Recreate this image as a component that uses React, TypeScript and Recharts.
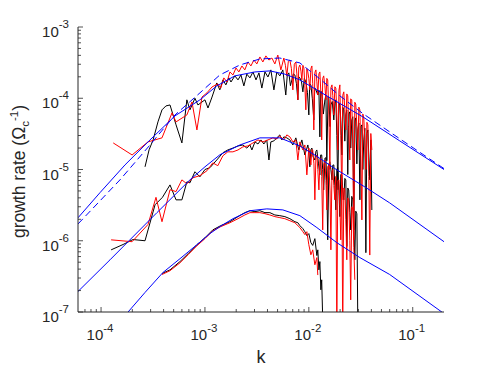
import React from 'react';
import { LineChart, Line, XAxis, YAxis } from 'recharts';

type Pt = [number, number];

// k, growth rate pairs
const blackTop: Pt[] = [
  [2.65e-4, 1.09e-5], [2.9e-4, 1.89e-5], [3.17e-4, 2.6e-5], [3.53e-4, 4.66e-5], [3.86e-4, 6.87e-5],
  [4.21e-4, 7.8e-5], [4.61e-4, 8.05e-5], [5.27e-4, 4.24e-5], [6.0e-4, 2.36e-5], [6.7e-4, 9.5e-5],
  [7.17e-4, 6.87e-5], [8.01e-4, 1.0e-4], [8.56e-4, 8.05e-5], [1.0e-3, 9.5e-5], [1.07e-3, 7.3e-5],
  [1.17e-3, 1.04e-4], [1.3e-3, 1.64e-4], [1.39e-3, 1.31e-4], [1.49e-3, 1.81e-4], [1.59e-3, 1.54e-4],
  [1.7e-3, 1.93e-4], [1.78e-3, 1.69e-4], [1.94e-3, 2.06e-4], [2.08e-3, 1.81e-4], [2.22e-3, 2.12e-4],
  [2.37e-3, 1.49e-4], [2.53e-3, 2.18e-4], [2.71e-3, 1.93e-4], [2.9e-3, 2.34e-4], [3.1e-3, 1.81e-4],
  [3.31e-3, 2.27e-4], [3.53e-3, 1.39e-4], [3.78e-3, 2.34e-4], [4.04e-3, 1.99e-4], [4.31e-3, 2.5e-4],
  [4.61e-3, 1.31e-4], [4.92e-3, 2.34e-4], [5.26e-3, 2.06e-4], [5.62e-3, 2.5e-4], [6.0e-3, 1.11e-4],
  [6.2e-3, 2.1e-4], [6.42e-3, 2.27e-4], [6.65e-3, 1.5e-4], [6.87e-3, 1.81e-4], [7.1e-3, 2.2e-4],
  [7.34e-3, 2.12e-4], [7.6e-3, 1.6e-4], [7.84e-3, 9.5e-5], [8.0e-3, 2.0e-4], [8.2e-3, 1.93e-4],
  [8.5e-3, 1.7e-4], [8.76e-3, 1.23e-4], [9.05e-3, 1.9e-4], [9.36e-3, 1.69e-4], [9.7e-3, 1.2e-4],
  [1.0e-2, 5.83e-5], [1.02e-2, 1.6e-4], [1.046e-2, 1.54e-4], [1.08e-2, 1.0e-4], [1.117e-2, 4.96e-5],
  [1.14e-2, 1.4e-4], [1.17e-2, 1.31e-4], [1.22e-2, 1.11e-4], [1.25e-2, 1.3e-4], [1.277e-2, 2.87e-5],
  [1.3e-2, 1.25e-4], [1.33e-2, 1.23e-4], [1.38e-2, 6.0e-5], [1.427e-2, 9.5e-5], [1.46e-2, 1.1e-4],
  [1.49e-2, 1.33e-5], [1.53e-2, 1.05e-4], [1.56e-2, 1.0e-4], [1.6e-2, 4.0e-5], [1.63e-2, 8.05e-5],
  [1.68e-2, 9.0e-5], [1.74e-2, 4.96e-5], [1.78e-2, 8.5e-5], [1.82e-2, 9.5e-5], [1.86e-2, 3.0e-5],
  [1.9e-2, 5.2e-6], [1.95e-2, 8.5e-5], [1.99e-2, 8.05e-5], [2.03e-2, 5.0e-5], [2.08e-2, 1.6e-5],
  [2.12e-2, 7.5e-5], [2.17e-2, 6.87e-5], [2.22e-2, 2.5e-5], [2.27e-2, 5.83e-5], [2.32e-2, 6.8e-5],
  [2.37e-2, 8.5e-6], [2.42e-2, 6.0e-5], [2.48e-2, 6.44e-5], [2.53e-2, 2.0e-5], [2.59e-2, 4.96e-5],
  [2.65e-2, 5.5e-5], [2.71e-2, 1.42e-6], [2.77e-2, 4.8e-5], [2.83e-2, 5.3e-5], [2.9e-2, 1.2e-5],
  [2.96e-2, 3.59e-5], [3.03e-2, 4.5e-5], [3.1e-2, 3.75e-6], [3.17e-2, 4.0e-5], [3.24e-2, 4.23e-5],
  [3.31e-2, 1.0e-5], [3.38e-2, 2.6e-5], [3.46e-2, 3.8e-5], [3.54e-2, 6.8e-7], [3.62e-2, 3.2e-5],
  [3.7e-2, 3.59e-5], [3.78e-2, 1.5e-5], [3.86e-2, 7.15e-6], [3.95e-2, 2.6e-5], [4.04e-2, 2.7e-6],
];

const redTop: Pt[] = [
  [1.31e-4, 2.36e-5], [1.99e-4, 1.6e-5], [2.83e-4, 2.44e-5], [3.86e-4, 2.78e-5], [4.82e-4, 6.23e-5],
  [5.27e-4, 4.66e-5], [6.7e-4, 5.83e-5], [7.5e-4, 8.89e-5], [8.37e-4, 3.59e-5], [9.36e-4, 1.04e-4],
  [1.045e-3, 1.19e-4], [1.17e-3, 1.44e-4], [1.33e-3, 1.59e-4], [1.42e-3, 1.39e-4], [1.52e-3, 1.93e-4],
  [1.63e-3, 1.69e-4], [1.74e-3, 2.34e-4], [1.86e-3, 2.12e-4], [1.99e-3, 2.66e-4], [2.12e-3, 2.34e-4],
  [2.27e-3, 2.84e-4], [2.42e-3, 2.5e-4], [2.59e-3, 3.23e-4], [2.77e-3, 2.84e-4], [2.96e-3, 3.44e-4],
  [3.16e-3, 3.03e-4], [3.38e-3, 3.8e-4], [3.61e-3, 3.23e-4], [3.86e-3, 3.93e-4], [4.13e-3, 3.44e-4],
  [4.41e-3, 3.67e-4], [4.71e-3, 3.03e-4], [5.03e-3, 4.04e-4], [5.38e-3, 2.5e-4], [5.75e-3, 3.67e-4],
  [5.95e-3, 2.9e-4], [6.14e-3, 2.06e-4], [6.35e-3, 3.3e-4], [6.57e-3, 3.44e-4], [6.8e-3, 2.6e-4],
  [7.02e-3, 1.31e-4], [7.25e-3, 3.0e-4], [7.5e-3, 3.23e-4], [7.67e-3, 2.2e-4], [7.84e-3, 9.5e-5],
  [8.0e-3, 2.7e-4], [8.2e-3, 2.93e-4], [8.4e-3, 2.4e-4], [8.57e-3, 1.81e-4], [8.76e-3, 2.9e-4],
  [8.96e-3, 2.66e-4], [9.16e-3, 1.5e-4], [9.36e-3, 6.87e-5], [9.57e-3, 2.6e-4], [9.78e-3, 2.34e-4],
  [1.0e-2, 1.9e-4], [1.023e-2, 1.31e-4], [1.046e-2, 2.6e-4], [1.07e-2, 2.84e-4], [1.09e-2, 1.6e-4],
  [1.117e-2, 3.59e-5], [1.143e-2, 2.3e-4], [1.17e-2, 2.5e-4], [1.195e-2, 1.7e-4], [1.22e-2, 1.11e-4],
  [1.25e-2, 2.2e-4], [1.277e-2, 2.34e-4], [1.305e-2, 1.2e-4], [1.33e-2, 2.6e-5], [1.36e-2, 1.9e-4],
  [1.39e-2, 2.06e-4], [1.427e-2, 1.5e-4], [1.46e-2, 9.5e-5], [1.49e-2, 1.9e-4], [1.52e-2, 1.81e-4],
  [1.56e-2, 6.0e-5], [1.594e-2, 1.0e-5], [1.63e-2, 1.4e-4], [1.67e-2, 1.54e-4], [1.7e-2, 1.1e-4],
  [1.74e-2, 5.83e-5], [1.78e-2, 1.45e-4], [1.82e-2, 1.39e-4], [1.86e-2, 6.0e-5], [1.9e-2, 1.88e-5],
  [1.95e-2, 1.3e-4], [1.99e-2, 1.54e-4], [2.03e-2, 3.0e-5], [2.08e-2, 3.75e-6], [2.12e-2, 1.1e-4],
  [2.17e-2, 1.23e-4], [2.22e-2, 7.0e-5], [2.27e-2, 3.59e-5], [2.32e-2, 1.15e-4], [2.37e-2, 1.08e-4],
  [2.42e-2, 4.0e-5], [2.48e-2, 1.36e-5], [2.53e-2, 9.8e-5], [2.59e-2, 9.5e-5], [2.65e-2, 2.0e-5],
  [2.71e-2, 1.03e-6], [2.77e-2, 8.8e-5], [2.83e-2, 8.3e-5], [2.9e-2, 4.0e-5], [2.96e-2, 1.88e-5],
  [3.03e-2, 7.5e-5], [3.1e-2, 6.87e-5], [3.17e-2, 1.5e-5], [3.24e-2, 1.96e-6], [3.31e-2, 6.0e-5],
  [3.38e-2, 5.3e-5], [3.46e-2, 2.5e-5], [3.54e-2, 1.0e-5], [3.62e-2, 4.6e-5], [3.7e-2, 4.23e-5],
  [3.78e-2, 8.0e-6], [3.86e-2, 6.3e-7], [3.95e-2, 3.2e-5], [4.04e-2, 1.88e-5],
];

const blackMid: Pt[] = [
  [1.25e-4, 7.45e-7], [1.63e-4, 8.86e-7], [2.03e-4, 1.04e-6], [2.65e-4, 1.0e-6], [3.31e-4, 3.2e-6],
  [3.9e-4, 4.07e-6], [4.61e-4, 6.08e-6], [5.27e-4, 3.75e-6], [6.0e-4, 3.75e-6], [6.7e-4, 6.7e-6],
  [7.17e-4, 6.5e-6], [8.01e-4, 9.3e-6], [8.95e-4, 7.9e-6], [1.0e-3, 1.0e-5], [1.117e-3, 1.06e-5],
  [1.3e-3, 1.36e-5], [1.49e-3, 1.72e-5], [1.66e-3, 1.88e-5], [1.86e-3, 2.0e-5], [2.08e-3, 2.14e-5],
  [2.32e-3, 2.21e-5], [2.53e-3, 2.0e-5], [2.71e-3, 2.21e-5], [2.83e-3, 1.88e-5], [3.03e-3, 2.44e-5],
  [3.24e-3, 2.28e-5], [3.46e-3, 2.6e-5], [3.69e-3, 2.28e-5], [3.94e-3, 2.6e-5], [4.13e-3, 1.36e-5],
  [4.31e-3, 2.44e-5], [4.61e-3, 2.52e-5], [4.92e-3, 2.78e-5], [5.26e-3, 3.06e-5], [5.5e-3, 2.6e-5],
  [5.75e-3, 2.87e-5], [6.14e-3, 2.78e-5], [6.57e-3, 2.6e-5], [7.02e-3, 2.21e-5], [7.5e-3, 2.78e-5],
  [8.01e-3, 1.88e-5], [8.57e-3, 2.6e-5], [9.16e-3, 1.6e-5], [9.78e-3, 2.21e-5], [1.0e-2, 1.8e-5],
  [1.023e-2, 1.09e-5], [1.046e-2, 1.9e-5], [1.07e-2, 2.0e-5], [1.1e-2, 1.5e-5], [1.143e-2, 1.36e-5],
  [1.17e-2, 1.8e-5], [1.195e-2, 1.88e-5], [1.24e-2, 1.2e-5], [1.277e-2, 8.4e-6], [1.3e-2, 1.6e-5],
  [1.33e-2, 1.6e-5], [1.36e-2, 1.0e-5], [1.39e-2, 5.17e-6], [1.43e-2, 1.45e-5], [1.46e-2, 1.46e-5],
  [1.49e-2, 6.0e-6], [1.52e-2, 1.03e-6], [1.56e-2, 1.2e-5], [1.594e-2, 1.28e-5], [1.63e-2, 1.0e-5],
  [1.67e-2, 7.15e-6], [1.7e-2, 1.15e-5], [1.74e-2, 1.16e-5], [1.78e-2, 6.0e-6], [1.82e-2, 2.71e-6],
  [1.86e-2, 1.0e-5], [1.9e-2, 1.06e-5], [1.95e-2, 5.0e-6], [1.99e-2, 2.18e-6], [2.03e-2, 8.5e-6],
  [2.08e-2, 8.4e-6], [2.12e-2, 5.0e-6], [2.17e-2, 3.75e-6], [2.22e-2, 7.5e-6], [2.27e-2, 7.15e-6],
  [2.32e-2, 8.3e-7], [2.37e-2, 5.5e-6], [2.42e-2, 5.17e-6], [2.48e-2, 2.5e-6], [2.53e-2, 1.42e-6],
  [2.59e-2, 4.2e-6], [2.65e-2, 3.75e-6], [2.71e-2, 1.5e-6], [2.77e-2, 5.4e-7], [2.83e-2, 2.6e-6],
  [2.9e-2, 2.39e-6], [2.96e-2, 7.0e-8],
];

const redMid: Pt[] = [
  [1.25e-4, 1.03e-6], [1.99e-4, 9.7e-7], [2.83e-4, 1.69e-6], [3.38e-4, 4.07e-6], [3.86e-4, 1.85e-6],
  [4.61e-4, 5.2e-6], [5.27e-4, 4.9e-6], [6.0e-4, 7.15e-6], [6.7e-4, 6.3e-6], [7.66e-4, 7.65e-6],
  [8.95e-4, 8.2e-6], [1.045e-3, 9.6e-6], [1.19e-3, 1.24e-5], [1.33e-3, 1.13e-5], [1.49e-3, 1.56e-5],
  [1.66e-3, 1.77e-5], [1.86e-3, 1.77e-5], [2.08e-3, 1.88e-5], [2.32e-3, 2.08e-5], [2.59e-3, 2.14e-5],
  [2.9e-3, 2.36e-5], [3.24e-3, 2.6e-5], [3.61e-3, 2.44e-5], [4.04e-3, 2.6e-5], [4.51e-3, 2.78e-5],
  [4.92e-3, 2.69e-5], [5.26e-3, 2.96e-5], [5.75e-3, 2.6e-5], [6.14e-3, 3.06e-5], [6.57e-3, 2.87e-5],
  [7.02e-3, 2.44e-5], [7.5e-3, 2.6e-5], [7.84e-3, 1.36e-5], [8.2e-3, 2.44e-5], [8.76e-3, 1.88e-5],
  [9.16e-3, 2.21e-5], [9.57e-3, 8.4e-6], [1.0e-2, 2.0e-5], [1.02e-2, 1.7e-5], [1.046e-2, 1.16e-5],
  [1.07e-2, 1.9e-5], [1.09e-2, 1.88e-5], [1.12e-2, 1.2e-5], [1.143e-2, 3.75e-6], [1.17e-2, 1.5e-5],
  [1.195e-2, 1.6e-5], [1.22e-2, 1.0e-5], [1.25e-2, 5.17e-6], [1.28e-2, 1.4e-5], [1.305e-2, 1.46e-5],
  [1.33e-2, 8.0e-6], [1.36e-2, 1.42e-6], [1.39e-2, 1.2e-5], [1.427e-2, 1.36e-5], [1.46e-2, 7.0e-6],
  [1.49e-2, 2.71e-6], [1.52e-2, 1.1e-5], [1.56e-2, 1.16e-5], [1.6e-2, 5.0e-6], [1.63e-2, 7.45e-7],
  [1.67e-2, 9.5e-6], [1.7e-2, 1.0e-5], [1.74e-2, 6.0e-6], [1.78e-2, 3.75e-6], [1.82e-2, 8.0e-6],
  [1.86e-2, 5.0e-8], [1.9e-2, 7.0e-6], [1.95e-2, 7.15e-6], [1.99e-2, 3.0e-6], [2.03e-2, 1.03e-6],
  [2.08e-2, 6.0e-6], [2.12e-2, 5.0e-8], [2.17e-2, 5.5e-6], [2.22e-2, 5.17e-6], [2.27e-2, 2.0e-6],
  [2.32e-2, 5.4e-7], [2.37e-2, 4.0e-6], [2.42e-2, 3.75e-6], [2.48e-2, 1.0e-6], [2.53e-2, 1.48e-7],
  [2.59e-2, 3.0e-6], [2.65e-2, 2.71e-6], [2.71e-2, 8.0e-7], [2.77e-2, 2.83e-7],
];

const blackBot: Pt[] = [
  [3.86e-4, 3.47e-7], [4.61e-4, 3.9e-7], [5.75e-4, 5.1e-7], [6.87e-4, 6.55e-7], [8.37e-4, 8.8e-7],
  [1.0e-3, 1.1e-6], [1.19e-3, 1.42e-6], [1.42e-3, 1.63e-6], [1.74e-3, 1.85e-6], [2.08e-3, 2.18e-6],
  [2.42e-3, 2.48e-6], [2.71e-3, 2.64e-6], [3.03e-3, 2.56e-6], [3.38e-3, 2.64e-6], [3.78e-3, 2.48e-6],
  [4.22e-3, 2.48e-6], [4.71e-3, 2.3e-6], [5.26e-3, 2.25e-6], [5.88e-3, 2.18e-6], [6.57e-3, 2.04e-6],
  [7.34e-3, 1.85e-6], [7.84e-3, 1.79e-6], [8.2e-3, 1.63e-6], [8.76e-3, 1.48e-6], [9.16e-3, 1.34e-6],
  [9.57e-3, 1.18e-6], [1.0e-2, 1.26e-6], [1.046e-2, 9.4e-7], [1.09e-2, 8.6e-7], [1.143e-2, 1.07e-6],
  [1.195e-2, 6.2e-7], [1.22e-2, 7.45e-7], [1.25e-2, 3.9e-7], [1.277e-2, 5.1e-7], [1.305e-2, 2.05e-7],
  [1.33e-2, 2.83e-7], [1.36e-2, 8.0e-8],
];

const redBot: Pt[] = [
  [3.86e-4, 3.36e-7], [4.61e-4, 3.8e-7], [5.75e-4, 4.9e-7], [6.87e-4, 6.35e-7], [8.37e-4, 8.5e-7],
  [1.0e-3, 1.07e-6], [1.19e-3, 1.38e-6], [1.42e-3, 1.58e-6], [1.74e-3, 1.79e-6], [2.08e-3, 2.04e-6],
  [2.42e-3, 2.3e-6], [2.71e-3, 2.48e-6], [3.03e-3, 2.48e-6], [3.38e-3, 2.48e-6], [3.78e-3, 2.4e-6],
  [4.22e-3, 2.3e-6], [4.71e-3, 2.18e-6], [5.26e-3, 2.11e-6], [5.88e-3, 2.04e-6], [6.57e-3, 1.91e-6],
  [7.34e-3, 1.79e-6], [8.2e-3, 1.53e-6], [8.76e-3, 1.34e-6], [9.16e-3, 1.22e-6], [9.57e-3, 1.34e-6],
  [1.0e-2, 8.8e-7], [1.046e-2, 6.35e-7], [1.09e-2, 7.45e-7], [1.143e-2, 4.6e-7], [1.195e-2, 5.8e-7],
  [1.22e-2, 3.3e-7],
];

// theory curves
const fitTop: Pt[] = [
  [6.0e-5, 2.1e-6], [9.78e-5, 4.74e-6], [1.7e-4, 1.16e-5], [2.96e-4, 2.6e-5], [5.15e-4, 5.66e-5],
  [8.95e-4, 9.5e-5], [1.3e-3, 1.49e-4], [1.94e-3, 2.06e-4], [3.03e-3, 2.34e-4], [4.22e-3, 2.42e-4],
  [5.88e-3, 2.18e-4], [8.2e-3, 1.81e-4], [1.49e-2, 1.08e-4], [3.31e-2, 5.48e-5], [7.5e-2, 2.52e-5],
  [0.2, 1.0e-5],
];

const fitTopDashed: Pt[] = [
  [6.0e-5, 1.72e-6], [1.52e-4, 7.15e-6], [2.96e-4, 2.21e-5], [5.15e-4, 5.83e-5], [8.95e-4, 1.19e-4],
  [1.39e-3, 2.12e-4], [2.17e-3, 2.93e-4], [3.38e-3, 3.56e-4], [5.26e-3, 3.67e-4], [8.2e-3, 3.13e-4],
  [1.277e-2, 1.87e-4], [1.99e-2, 1.08e-4], [3.31e-2, 6.1e-5], [7.5e-2, 2.7e-5], [0.2, 1.03e-5],
];

const fitMid: Pt[] = [
  [6.0e-5, 1.94e-7], [1.22e-4, 5.4e-7], [3.45e-4, 2.48e-6], [7.17e-4, 7.15e-6], [1.0e-3, 1.09e-5],
  [1.394e-3, 1.61e-5], [2.17e-3, 2.21e-5], [3.38e-3, 2.78e-5], [5.26e-3, 2.78e-5], [8.2e-3, 2.14e-5],
  [1.17e-2, 1.56e-5], [1.78e-2, 1.03e-5], [3.46e-2, 5.7e-6], [6.0e-2, 3.4e-6], [0.2, 9.7e-7],
];

const fitBot: Pt[] = [
  [1.82e-4, 1.0e-7], [2.65e-4, 1.88e-7], [3.94e-4, 3.58e-7], [5.75e-4, 5.6e-7], [8.37e-4, 8.8e-7],
  [1.117e-3, 1.26e-6], [1.394e-3, 1.58e-6], [1.86e-3, 2.04e-6], [2.71e-3, 2.64e-6], [3.94e-3, 2.8e-6],
  [5.62e-3, 2.71e-6], [8.2e-3, 2.25e-6], [1.195e-2, 1.53e-6], [1.86e-2, 9.4e-7], [3.1e-2, 5.8e-7],
  [6.0e-2, 3.36e-7], [0.2, 9.5e-8],
];

const xTicks = [
  7e-5, 8e-5, 9e-5, 1e-4, 2e-4, 3e-4, 4e-4, 5e-4, 6e-4, 7e-4, 8e-4, 9e-4,
  1e-3, 2e-3, 3e-3, 4e-3, 5e-3, 6e-3, 7e-3, 8e-3, 9e-3,
  1e-2, 2e-2, 3e-2, 4e-2, 5e-2, 6e-2, 7e-2, 8e-2, 9e-2, 1e-1,
];
const xMajor = [1e-4, 1e-3, 1e-2, 1e-1];
const xExp = ['-4', '-3', '-2', '-1'];

const yTicks = [
  1e-7, 2e-7, 3e-7, 4e-7, 5e-7, 6e-7, 7e-7, 8e-7, 9e-7,
  1e-6, 2e-6, 3e-6, 4e-6, 5e-6, 6e-6, 7e-6, 8e-6, 9e-6,
  1e-5, 2e-5, 3e-5, 4e-5, 5e-5, 6e-5, 7e-5, 8e-5, 9e-5,
  1e-4, 2e-4, 3e-4, 4e-4, 5e-4, 6e-4, 7e-4, 8e-4, 9e-4, 1e-3,
];
const yMajor = [1e-7, 1e-6, 1e-5, 1e-4, 1e-3];
const yExp = ['-7', '-6', '-5', '-4', '-3'];

const X_DOMAIN: [number, number] = [6e-5, 0.2];
const Y_DOMAIN: [number, number] = [1e-7, 1e-3];

const FONT = '"Liberation Sans", Arial, Helvetica, sans-serif';
const INK = '#262626';
const W = 491;
const H = 368;
const MARGIN = { top: 27, right: 47, bottom: 0, left: 0 };
const Y_AXIS_W = 78;
const X_AXIS_H = 56;
const PLOT_W = W - MARGIN.right - Y_AXIS_W;
const PLOT_H = H - MARGIN.top - X_AXIS_H;

const series = [
  { name: 'blackTop', data: blackTop, color: '#000000' },
  { name: 'blackMid', data: blackMid, color: '#000000' },
  { name: 'blackBot', data: blackBot, color: '#000000' },
  { name: 'redTop', data: redTop, color: '#ff0000' },
  { name: 'redMid', data: redMid, color: '#ff0000' },
  { name: 'redBot', data: redBot, color: '#ff0000' },
  { name: 'fitTop', data: fitTop, color: '#0000ff' },
  { name: 'fitTopDashed', data: fitTopDashed, color: '#0000ff', dash: '7 4' },
  { name: 'fitMid', data: fitMid, color: '#0000ff' },
  { name: 'fitBot', data: fitBot, color: '#0000ff' },
];

const toRows = (pts: Pt[]) => pts.map(([k, g]) => ({ k, g }));

const BottomTick = (props: any) => {
  const { x, y, payload } = props;
  const i = xMajor.indexOf(payload.value);
  const major = i >= 0;
  return (
    <g>
      <line x1={x} y1={y} x2={x} y2={y - (major ? 5 : 3)} stroke={INK} strokeWidth={0.8} />
      {major && (
        <text x={x - 1} y={y + 28} textAnchor="middle" fill={INK} fontFamily={FONT}>
          <tspan fontSize={15}>10</tspan>
          <tspan fontSize={11.5} dy={-8}>{xExp[i]}</tspan>
        </text>
      )}
    </g>
  );
};

const TopTick = (props: any) => {
  const { x, y, payload } = props;
  const major = xMajor.includes(payload.value);
  return <line x1={x} y1={y} x2={x} y2={y + (major ? 5 : 3)} stroke={INK} strokeWidth={0.8} />;
};

const LeftTick = (props: any) => {
  const { x, y, payload } = props;
  const i = yMajor.indexOf(payload.value);
  const major = i >= 0;
  return (
    <g>
      <line x1={x} y1={y} x2={x + (major ? 5 : 3)} y2={y} stroke={INK} strokeWidth={0.8} />
      {major && (
        <text x={x - 9} y={y + 10} textAnchor="end" fill={INK} fontFamily={FONT}>
          <tspan fontSize={15}>10</tspan>
          <tspan fontSize={11.5} dy={-9}>{yExp[i]}</tspan>
        </text>
      )}
    </g>
  );
};

const RightTick = (props: any) => {
  const { x, y, payload } = props;
  const major = yMajor.includes(payload.value);
  return <line x1={x} y1={y} x2={x - (major ? 5 : 3)} y2={y} stroke={INK} strokeWidth={0.8} />;
};

const xTitle = () => (
  <text x={Y_AXIS_W + PLOT_W / 2} y={H - 5} textAnchor="middle" fontSize={18} fill={INK} fontFamily={FONT}>
    k
  </text>
);

const yTitle = () => {
  const cx = 25;
  const cy = MARGIN.top + PLOT_H / 2 + 2;
  return (
    <text
      x={cx}
      y={cy}
      transform={`rotate(-90, ${cx}, ${cy})`}
      textAnchor="middle"
      fontSize={17.5}
      fill={INK}
      fontFamily={FONT}
    >
      <tspan>growth rate (Ω</tspan>
      <tspan fontSize={11.5} dy={4}>c</tspan>
      <tspan fontSize={11.5} dy={-11}>-1</tspan>
      <tspan dy={7}>)</tspan>
    </text>
  );
};

export default function App() {
  return (
    <div style={{ position: 'absolute', left: 0, top: 0, background: '#fff' }}>
      <LineChart width={W} height={H} margin={MARGIN}>
        <XAxis
          dataKey="k"
          type="number"
          scale="log"
          domain={X_DOMAIN}
          allowDataOverflow
          ticks={xTicks}
          interval={0}
          height={X_AXIS_H}
          tickSize={0}
          tickMargin={0}
          tickLine={false}
          axisLine={{ stroke: INK }}
          tick={BottomTick}
          label={{ content: xTitle }}
        />
        <XAxis
          xAxisId="top"
          orientation="top"
          dataKey="k"
          type="number"
          scale="log"
          domain={X_DOMAIN}
          allowDataOverflow
          ticks={xTicks}
          interval={0}
          height={0}
          tickSize={0}
          tickMargin={0}
          tickLine={false}
          axisLine={{ stroke: INK }}
          tick={TopTick}
        />
        <YAxis
          type="number"
          scale="log"
          domain={Y_DOMAIN}
          allowDataOverflow
          ticks={yTicks}
          interval={0}
          width={Y_AXIS_W}
          tickSize={0}
          tickMargin={0}
          tickLine={false}
          axisLine={{ stroke: INK }}
          tick={LeftTick}
          label={{ content: yTitle }}
        />
        <YAxis
          yAxisId="right"
          orientation="right"
          type="number"
          scale="log"
          domain={Y_DOMAIN}
          allowDataOverflow
          ticks={yTicks}
          interval={0}
          width={0}
          tickSize={0}
          tickMargin={0}
          tickLine={false}
          axisLine={{ stroke: INK }}
          tick={RightTick}
        />
        {series.map((s) => (
          <Line
            key={s.name}
            data={toRows(s.data)}
            dataKey="g"
            type="linear"
            stroke={s.color}
            strokeWidth={1}
            strokeDasharray={s.dash}
            dot={false}
            activeDot={false}
            isAnimationActive={false}
          />
        ))}
      </LineChart>
    </div>
  );
}
